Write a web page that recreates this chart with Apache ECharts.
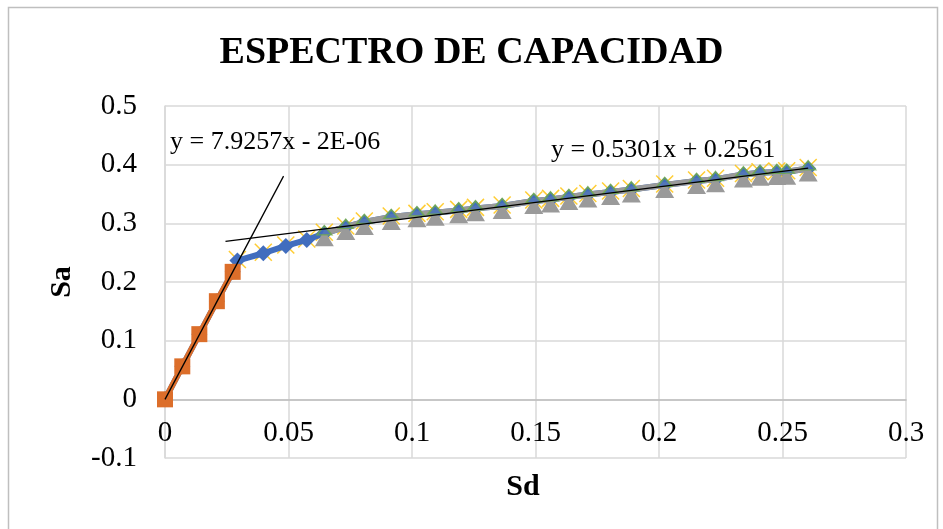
<!DOCTYPE html>
<html>
<head>
<meta charset="utf-8">
<script src="https://cdn.jsdelivr.net/npm/echarts@6/dist/echarts.min.js"></script>
<style>
html,body{margin:0;padding:0;background:#fff;}
#chart{width:943px;height:529px;}
</style>
</head>
<body>
<div id="chart"></div>
<script>
// ---- data ----
const chartTitle = "ESPECTRO DE CAPACIDAD";
const xAxisTitle = "Sd";
const yAxisTitle = "Sa";
// elastic branch (orange squares)
const elasticSd = [0, 0.0070, 0.0139, 0.0210, 0.0274];
const elasticSa = [0, 0.0562, 0.1111, 0.1673, 0.2173];
// transition (blue diamonds)
const transitionSd = [0.0293, 0.0398, 0.0489, 0.0574];
const transitionSa = [0.2365, 0.2490, 0.2615, 0.2717];
// plastic branch (grey triangles)
const plasticSd = [0.0645, 0.0732, 0.0807, 0.0916, 0.1020, 0.1094, 0.1189, 0.1257, 0.1365, 0.1493, 0.1561, 0.1635, 0.1712, 0.1804, 0.1888, 0.2023, 0.2152, 0.2229, 0.2342, 0.2409, 0.2477, 0.2517, 0.2604];
const plasticSa = [0.2830, 0.2939, 0.3024, 0.3109, 0.3153, 0.3182, 0.3221, 0.3255, 0.3296, 0.3381, 0.3408, 0.3449, 0.3493, 0.3534, 0.3578, 0.3653, 0.3721, 0.3753, 0.3834, 0.3863, 0.3876, 0.3880, 0.3936];
// trendlines: slope, intercept, x-range
const trend1Coef = [7.9257, -0.000002];
const trend1Range = [0, 0.048];
const trend1Text = "y = 7.9257x - 2E-06";
const trend2Coef = [0.5301, 0.2561];
const trend2Range = [0.0245, 0.2604];
const trend2Text = "y = 0.5301x + 0.2561";
// axis ticks
const xTicks = [0, 0.05, 0.1, 0.15, 0.2, 0.25, 0.3];
const yTicks = [-0.1, 0, 0.1, 0.2, 0.3, 0.4, 0.5];

// ---- build ----
const zip = (xs, ys) => xs.map((x, i) => [x, ys[i]]);
const elastic = zip(elasticSd, elasticSa);
const transition = zip(transitionSd, transitionSa);
const plastic = zip(plasticSd, plasticSa);
const fullCurve = elastic.concat(transition, plastic);
const trendPts = (c, r) => r.map(x => [x, c[0] * x + c[1]]);

const FONT = "'Liberation Serif', 'Times New Roman', serif";
const GRID = {left: 165, right: 37, top: 106, bottom: 71};
const plotH = 529 - GRID.top - GRID.bottom;
const yMin = yTicks[0], yMax = yTicks[yTicks.length - 1];
// move the x axis (line + labels) up to the Sa = 0 position, as in Excel
const zeroOffset = -plotH * (0 - yMin) / (yMax - yMin);

const chart = echarts.init(document.getElementById('chart'), null, {renderer: 'canvas'});

chart.setOption({
  animation: false,
  backgroundColor: '#ffffff',
  title: {
    text: chartTitle,
    left: 'center',
    top: 29,
    textStyle: {fontFamily: FONT, fontSize: 38, fontWeight: 'bold', color: '#000'}
  },
  grid: Object.assign({containLabel: false}, GRID),
  xAxis: {
    type: 'value', position: 'bottom', offset: zeroOffset,
    min: xTicks[0], max: xTicks[xTicks.length - 1], interval: 0.05,
    axisLine: {show: true, onZero: false, lineStyle: {color: '#BFBFBF', width: 1.5}},
    axisTick: {show: false},
    axisLabel: {fontFamily: FONT, fontSize: 29, color: '#000', margin: 20,
      formatter: v => String(+v.toFixed(2))},
    splitLine: {show: true, lineStyle: {color: '#D9D9D9', width: 1.5}}
  },
  yAxis: {
    type: 'value',
    min: yMin, max: yMax, interval: 0.1,
    name: yAxisTitle, nameLocation: 'middle', nameGap: 88, nameRotate: 90,
    nameTextStyle: {fontFamily: FONT, fontSize: 30, fontWeight: 'bold', color: '#000'},
    axisLine: {show: true, lineStyle: {color: '#D9D9D9', width: 1.5}},
    axisTick: {show: false},
    axisLabel: {fontFamily: FONT, fontSize: 29, color: '#000', margin: 28,
      formatter: v => String(+v.toFixed(2))},
    splitLine: {show: true, lineStyle: {color: '#D9D9D9', width: 1.5}}
  },
  graphic: [
    {type: 'rect', silent: true, z: -10,
      shape: {x: 8.5, y: 7.5, width: 929, height: 540},
      style: {fill: 'none', stroke: '#BFBFBF', lineWidth: 1.5}},
    {type: 'text', x: 523, y: 487, z: 10,
      style: {text: xAxisTitle, font: 'bold 30px ' + FONT, fill: '#000',
        align: 'center', verticalAlign: 'middle', textAlign: 'center', textVerticalAlign: 'middle'}},
    {type: 'text', x: 170, y: 142, z: 10,
      style: {text: trend1Text, font: '26px ' + FONT, fill: '#000',
        align: 'left', verticalAlign: 'middle', textAlign: 'left', textVerticalAlign: 'middle'}},
    {type: 'text', x: 551, y: 150, z: 10,
      style: {text: trend2Text, font: '26px ' + FONT, fill: '#000',
        align: 'left', verticalAlign: 'middle', textAlign: 'left', textVerticalAlign: 'middle'}}
  ],
  series: [
    {
      name: 'x-markers', type: 'scatter', z: 1,
      data: transition.concat(plastic),
      symbol: 'path://M0,0L10,10M10,0L0,10', symbolSize: 17, symbolOffset: [0, -1],
      itemStyle: {color: 'rgba(0,0,0,0)', borderColor: '#FFC000', borderWidth: 1.5}
    },
    {
      name: 'curva', type: 'line', z: 2,
      data: fullCurve,
      symbol: 'diamond', symbolSize: 16, showSymbol: true,
      lineStyle: {color: '#416DBE', width: 6},
      itemStyle: {color: '#416DBE', borderWidth: 0}
    },
    {
      name: 'plastico', type: 'line', z: 3,
      data: plastic,
      symbol: 'triangle', symbolSize: [19, 16], symbolOffset: [0, 5],
      lineStyle: {color: '#9A9A9A', width: 6},
      itemStyle: {color: '#9A9A9A', borderWidth: 0}
    },
    {
      name: 'cap', type: 'scatter', z: 4,
      data: plastic,
      symbol: 'triangle', symbolSize: [15, 9], symbolOffset: [0, -3],
      itemStyle: {color: '#416DBE', borderColor: '#70AD47', borderWidth: 1.5}
    },
    {
      name: 'elastico', type: 'line', z: 5,
      data: elastic,
      symbol: 'rect', symbolSize: 16,
      lineStyle: {color: '#DC6E2A', width: 6},
      itemStyle: {color: '#DC6E2A', borderWidth: 0}
    },
    {
      name: 'trend1', type: 'line', z: 6,
      data: trendPts(trend1Coef, trend1Range),
      symbol: 'none', lineStyle: {color: '#000', width: 1.3}
    },
    {
      name: 'trend2', type: 'line', z: 6,
      data: trendPts(trend2Coef, trend2Range),
      symbol: 'none', lineStyle: {color: '#000', width: 1.3}
    }
  ]
});
</script>
</body>
</html>
